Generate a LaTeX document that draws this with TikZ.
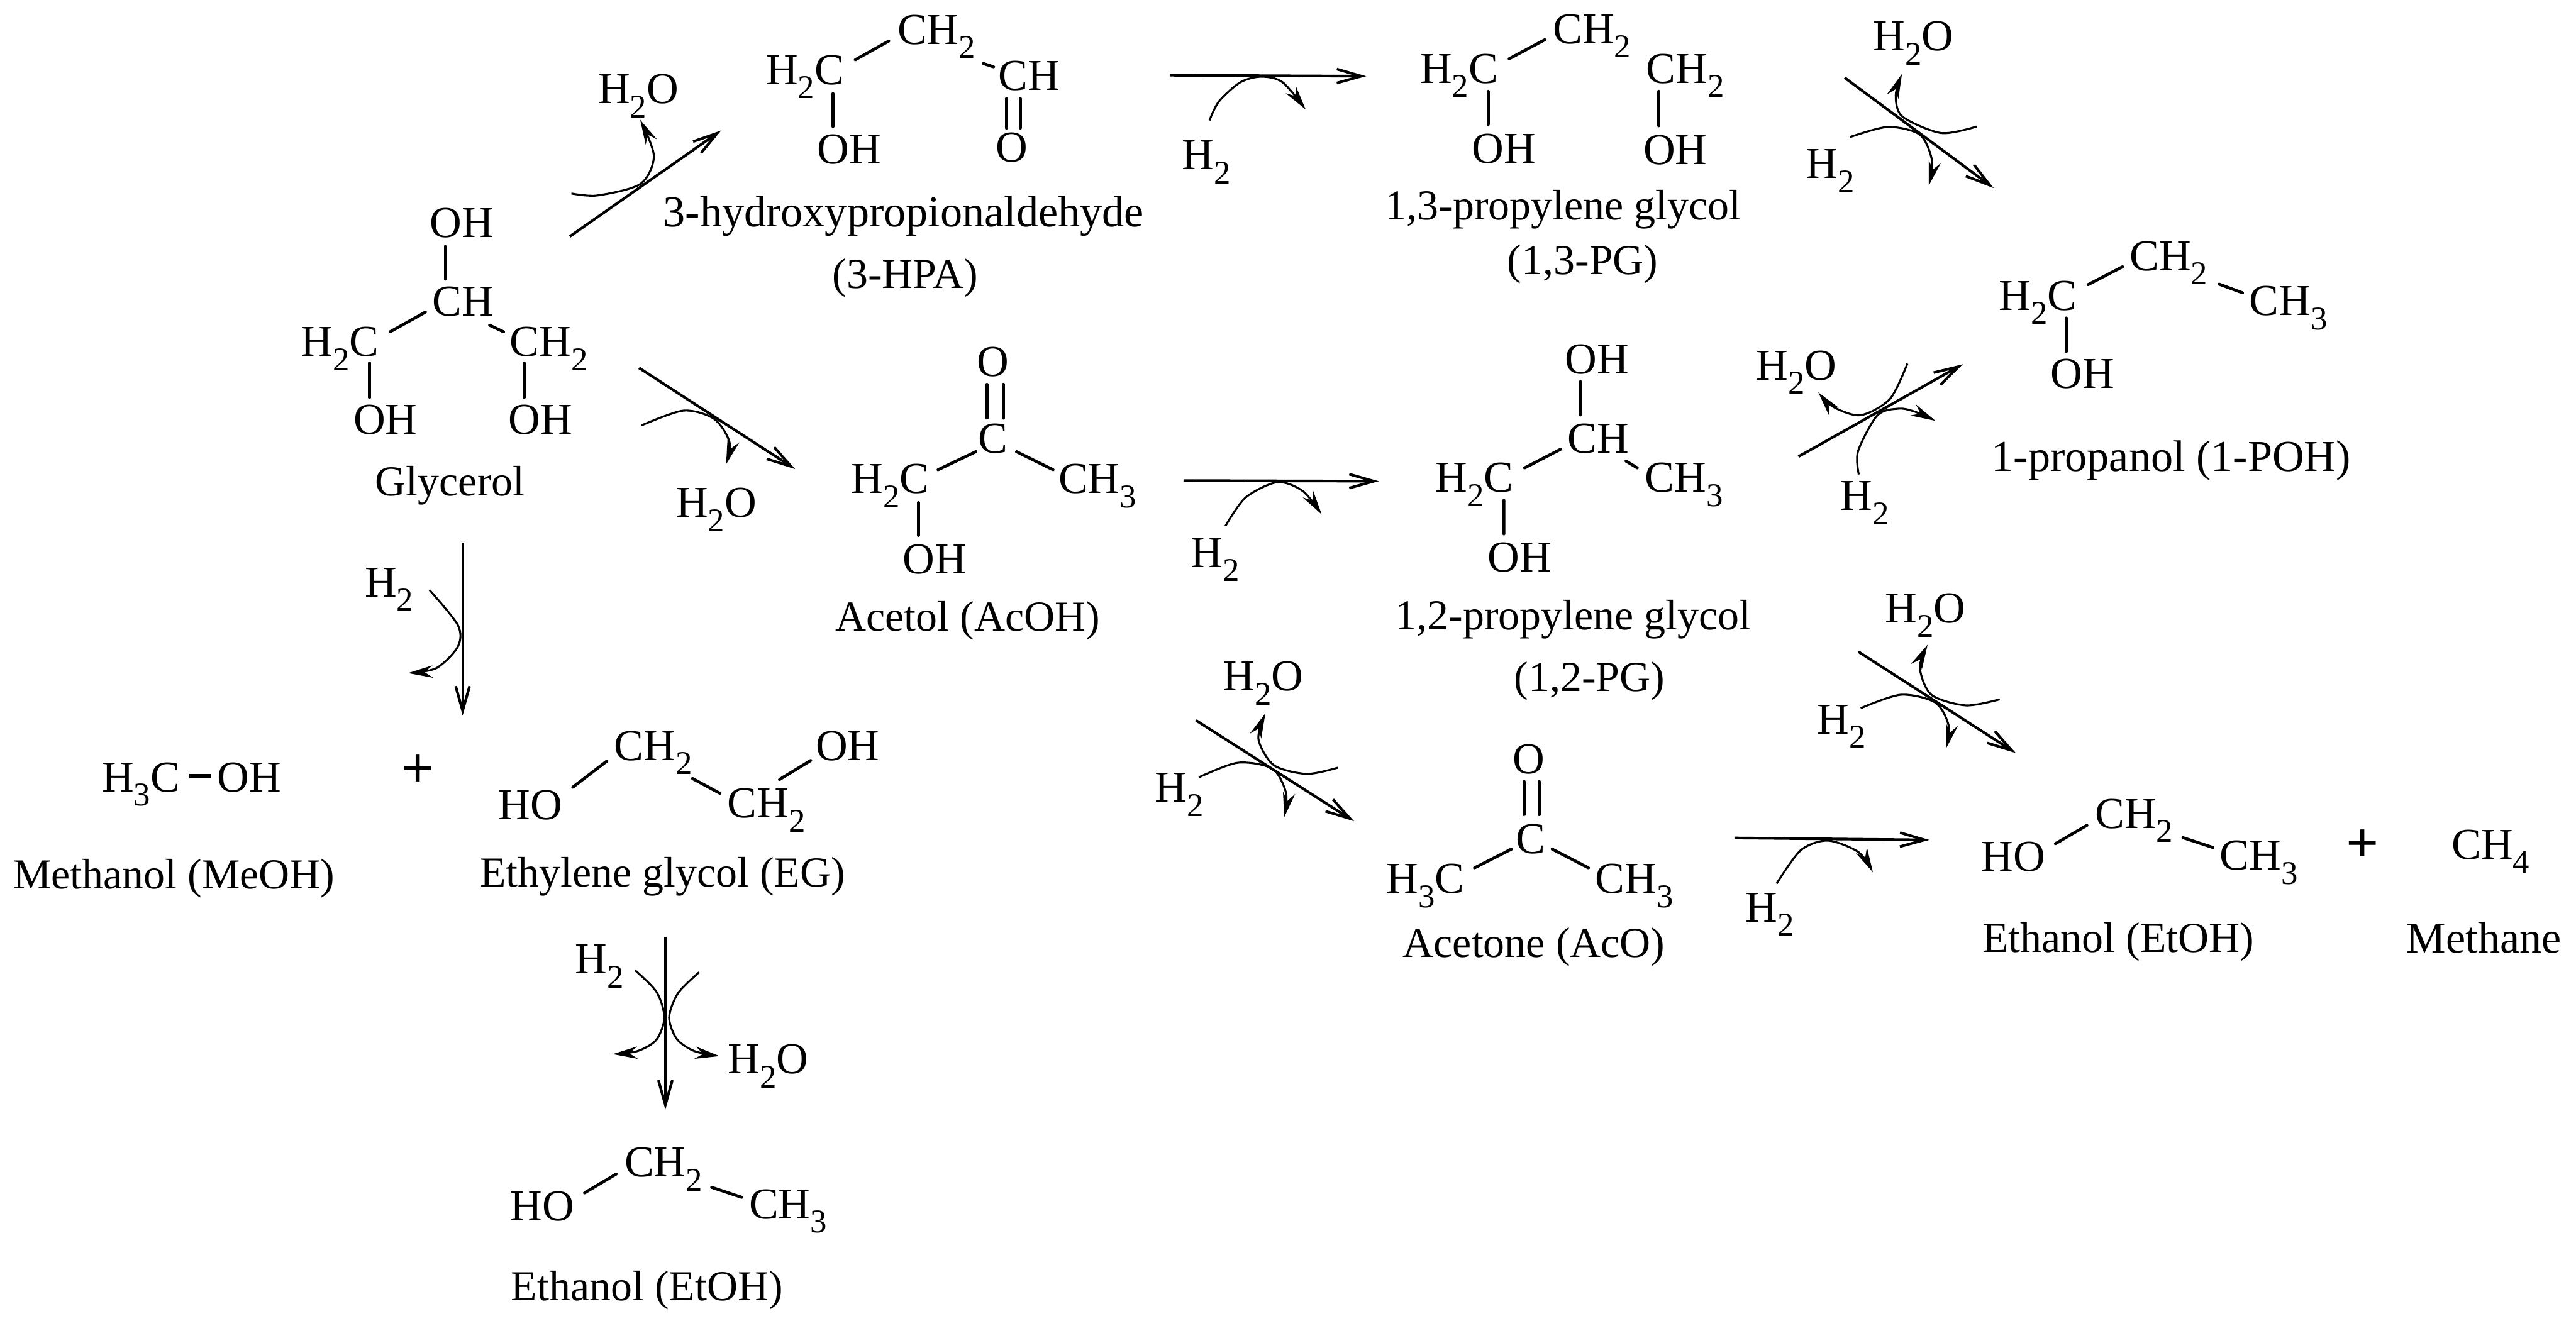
\documentclass[tikz,border=0pt]{standalone}
\usepackage{fontspec}
\setmainfont{Liberation Serif}
\usetikzlibrary{calc,arrows.meta}
\newcommand{\sbs}[1]{\raisebox{-.32em}{\fontsize{11.5}{12}\selectfont #1}}
\tikzset{
  every node/.style={anchor=base,font=\fontsize{15.3}{18}\selectfont},
  lab/.style={font=\fontsize{14.8}{18}\selectfont},
  bond/.style={line width=.036cm,line cap=round},
  rxn/.style={line width=.032cm,-{Straight Barb[length=.3cm,width=.17cm]}},
  curv/.style={line width=.024cm,-{Stealth[length=.3cm,width=.15cm,inset=.1cm]}},
  plusnode/.style={anchor=center,font=\fontsize{20}{20}\selectfont\bfseries}
}
\begin{document}
\begin{tikzpicture}[x=.02cm,y=-.02cm]
    \useasboundingbox (0,0) rectangle (1568,807);

    % glycerol
    \draw node at (281,144.5)[name=glyO]{OH};
    \draw node at (282,192.5)[name=glyCH]{CH};
    \draw node at (207,217)[name=glyL]{H\sbs{2}C};
    \draw node at (334,217)[name=glyR]{CH\sbs{2}};
    \draw node at (234.6,264.5)[name=glyOL]{OH};
    \draw node at (329,264.5)[name=glyOR]{OH};
    \draw node at (274,302)[name=glyName,lab]{Glycerol};
    \draw[bond] ($(glyO.base)+(-10,5.5)$) -- ($(glyCH.base)+(-11,-22.5)$);
    \draw[bond] ($(glyCH.base)+(-23,-2.5)$) -- ($(glyL.base)+(30.5,-15)$);
    \draw[bond] ($(glyCH.base)+(16,5.5)$) -- ($(glyR.base)+(-27.5,-15)$);
    \draw[bond] ($(glyL.base)+(18,4)$) -- ($(glyOL.base)+(-9.6,-22.5)$);
    \draw[bond] ($(glyR.base)+(-15,4)$) -- ($(glyOR.base)+(-10,-22.5)$);

    % 3-HPA
    \draw node at (490,51.4)[name=hpaL]{H\sbs{2}C};
    \draw node at (570,27)[name=hpaM]{CH\sbs{2}};
    \draw node at (626.5,54.8)[name=hpaR]{CH};
    \draw node at (517,99.6)[name=hpaOH]{OH};
    \draw node at (616,98.5)[name=hpaO]{O};
    \draw node at (550,138)[name=hpaName]{3-hydroxypropionaldehyde};
    \draw node at (551,175.7)[name=hpaAbbr,lab]{(3-HPA)};
    \draw[bond] ($(hpaL.base)+(17,5.6)$) -- ($(hpaOH.base)+(-10,-22.6)$);
    \draw[bond] ($(hpaL.base)+(30.6,-15)$) -- ($(hpaM.base)+(-29,-2)$);
    \draw[bond] ($(hpaM.base)+(28.6,11.7)$) -- ($(hpaR.base)+(-21.7,-14.1)$);
    \draw[bond] ($(hpaR.base)+(-13.9,5.2)$) -- ($(hpaO.base)+(-3.4,-20.5)$);
    \draw[bond] ($(hpaR.base)+(-5.5,5.2)$) -- ($(hpaO.base)+(5,-20.5)$);

    % 1,3-PG
    \draw node at (888.2,50.7)[name=pgaL]{H\sbs{2}C};
    \draw node at (969,26.6)[name=pgaM]{CH\sbs{2}};
    \draw node at (1025.9,50.7)[name=pgaR]{CH\sbs{2}};
    \draw node at (915.3,99.2)[name=pgaOL]{OH};
    \draw node at (1019.8,100)[name=pgaOR]{OH};
    \draw node at (951.5,133.8)[name=pgaName,lab]{1,3-propylene glycol};
    \draw node at (963.4,167)[name=pgaAbbr,lab]{(1,3-PG)};
    \draw[bond] ($(pgaL.base)+(30.4,-14.9)$) -- ($(pgaM.base)+(-28.7,-2.4)$);
    \draw[bond] ($(pgaL.base)+(17.7,4.9)$) -- ($(pgaOL.base)+(-9.4,-23.4)$);
    \draw[bond] ($(pgaR.base)+(-16.2,4.9)$) -- ($(pgaOR.base)+(-10.1,-23.4)$);

    % 1-propanol
    \draw node at (1240.6,188.8)[name=proL]{H\sbs{2}C};
    \draw node at (1320,164.8)[name=proM]{CH\sbs{2}};
    \draw node at (1393,192)[name=proR]{CH\sbs{3}};
    \draw node at (1267.6,236.5)[name=proOH]{OH};
    \draw node at (1321.6,287)[name=proName]{1-propanol (1-POH)};
    \draw[bond] ($(proL.base)+(30.4,-15.5)$) -- ($(proM.base)+(-28,-2.4)$);
    \draw[bond] ($(proM.base)+(30.7,8.2)$) -- ($(proR.base)+(-28,-13.7)$);
    \draw[bond] ($(proL.base)+(17.2,4.8)$) -- ($(proOH.base)+(-9.8,-22.5)$);

    % acetol
    \draw node at (604.5,229)[name=aceO]{O};
    \draw node at (604.5,276)[name=aceC]{C};
    \draw node at (542,300.5)[name=aceL]{H\sbs{2}C};
    \draw node at (668,300.5)[name=aceR]{CH\sbs{3}};
    \draw node at (569,349.5)[name=aceOH]{OH};
    \draw node at (589,384)[name=aceName,lab]{Acetol (AcOH)};
    \draw[bond] ($(aceO.base)+(-3.8,5)$) -- ($(aceC.base)+(-3.8,-21.4)$);
    \draw[bond] ($(aceO.base)+(6.3,5)$) -- ($(aceC.base)+(6.3,-21.4)$);
    \draw[bond] ($(aceC.base)+(-10.5,-1)$) -- ($(aceL.base)+(29,-14.5)$);
    \draw[bond] ($(aceC.base)+(14.2,-1)$) -- ($(aceR.base)+(-27,-14.5)$);
    \draw[bond] ($(aceL.base)+(17,5.5)$) -- ($(aceOH.base)+(-10,-23.5)$);

    % 1,2-PG
    \draw node at (972,227.7)[name=pgbO]{OH};
    \draw node at (972.7,275.9)[name=pgbC]{CH};
    \draw node at (897.6,299.7)[name=pgbL]{H\sbs{2}C};
    \draw node at (1025,299.7)[name=pgbR]{CH\sbs{3}};
    \draw node at (924.9,348.2)[name=pgbOH]{OH};
    \draw node at (957.6,383.5)[name=pgbName,lab]{1,2-propylene glycol};
    \draw node at (967.5,421)[name=pgbAbbr,lab]{(1,2-PG)};
    \draw[bond] ($(pgbO.base)+(-10,4.5)$) -- ($(pgbC.base)+(-10.7,-23.2)$);
    \draw[bond] ($(pgbC.base)+(-22.9,-2.3)$) -- ($(pgbL.base)+(30.4,-14.8)$);
    \draw[bond] ($(pgbC.base)+(17,4.8)$) -- ($(pgbR.base)+(-28.4,-14.8)$);
    \draw[bond] ($(pgbL.base)+(17.8,4.9)$) -- ($(pgbOH.base)+(-9.5,-23.1)$);

    % methanol + ethylene glycol
    \draw node at (85.8,482)[name=metL]{H\sbs{3}C};
    \draw node at (151.7,482)[name=metO]{OH};
    \draw node at (106,541)[name=metName,lab]{Methanol (MeOH)};
    \draw[bond,line width=.05cm,line cap=butt] ($(metL.base)+(29.4,-9.4)$) -- ($(metO.base)+(-23,-9.4)$);
    \draw node at (254.3,469.4)[name=plusA,plusnode]{+};
    \draw node at (322.8,499)[name=egH]{HO};
    \draw node at (397.6,463)[name=egA]{CH\sbs{2}};
    \draw node at (466.5,498)[name=egB]{CH\sbs{2}};
    \draw node at (516,463)[name=egO]{OH};
    \draw node at (403.3,540)[name=egName,lab]{Ethylene glycol (EG)};
    \draw[bond] ($(egH.base)+(25.8,-19.7)$) -- ($(egA.base)+(-28.2,.4)$);
    \draw[bond] ($(egA.base)+(23.9,11)$) -- ($(egB.base)+(-28.3,-15)$);
    \draw[bond] ($(egB.base)+(8,-23.4)$) -- ($(egO.base)+(-22.5,0)$);

    % ethanol from EG
    \draw node at (330,743.3)[name=etaH]{HO};
    \draw node at (403.9,716.5)[name=etaM]{CH\sbs{2}};
    \draw node at (479.7,742)[name=etaR]{CH\sbs{3}};
    \draw node at (393.9,791.7)[name=etaName,lab]{Ethanol (EtOH)};
    \draw[bond] ($(etaH.base)+(25.8,-17)$) -- ($(etaM.base)+(-28.8,-1.7)$);
    \draw[bond] ($(etaM.base)+(29.3,6.4)$) -- ($(etaR.base)+(-28.2,-13)$);

    % acetone
    \draw node at (930.7,471.2)[name=ketO]{O};
    \draw node at (931.6,519.6)[name=ketC]{C};
    \draw node at (867.6,543.8)[name=ketL]{H\sbs{3}C};
    \draw node at (994.9,543.8)[name=ketR]{CH\sbs{3}};
    \draw node at (933.7,582.7)[name=ketName,lab]{Acetone (AcO)};
    \draw[bond] ($(ketO.base)+(-3.1,4.6)$) -- ($(ketC.base)+(-4,-23.6)$);
    \draw[bond] ($(ketO.base)+(6.1,4.6)$) -- ($(ketC.base)+(5.2,-23.6)$);
    \draw[bond] ($(ketC.base)+(-11.6,-2.6)$) -- ($(ketL.base)+(29.9,-15.4)$);
    \draw[bond] ($(ketC.base)+(13.2,-2.6)$) -- ($(ketR.base)+(-28,-15.4)$);

    % ethanol + methane
    \draw node at (1225.6,530.5)[name=etbH]{HO};
    \draw node at (1299,504.3)[name=etbM]{CH\sbs{2}};
    \draw node at (1375,529.8)[name=etbR]{CH\sbs{3}};
    \draw node at (1289.4,579.6)[name=etbName,lab]{Ethanol (EtOH)};
    \draw[bond] ($(etbH.base)+(25.5,-16.8)$) -- ($(etbM.base)+(-28.7,-1.8)$);
    \draw[bond] ($(etbM.base)+(29.7,5.7)$) -- ($(etbR.base)+(-28,-13.8)$);
    \draw node at (1438,515)[name=plusB,plusnode]{+};
    \draw node at (1516,523)[name=mthF]{CH\sbs{4}};
    \draw node at (1512,580)[name=mthName]{Methane};

    % glycerol to 3-HPA
    \draw node at (388.6,63)[name=waterA]{H\sbs{2}O};
    \coordinate (rAa) at (346.8,144); \coordinate (rAb) at (439,79.4);
    \draw[rxn] (rAa) -- (rAb);
    \coordinate (cAa) at (347.8,117.8); \coordinate (cAb) at (389.7,73);
    \draw[curv] plot[smooth] coordinates {(cAa) (363.7,119) (389.8,112) (398,95) (cAb)};

    % 3-HPA to 1,3-PG
    \draw node at (734.4,103.3)[name=hydrB]{H\sbs{2}};
    \coordinate (rBa) at (712.2,45.8); \coordinate (rBb) at (831.6,46.4);
    \draw[rxn] (rBa) -- (rBb);
    \coordinate (cBa) at (736.2,73.3); \coordinate (cBb) at (794.7,66.6);
    \draw[curv] plot[smooth] coordinates {(cBa) (742,61.7) (755,50.1) (767.8,46.7) (780.7,50.1) (cBb)};

    % 1,3-PG to 1-propanol
    \draw node at (1164.6,31)[name=waterC]{H\sbs{2}O};
    \draw node at (1114,108.7)[name=hydrC]{H\sbs{2}};
    \coordinate (rCa) at (1122.8,47.3); \coordinate (rCb) at (1213.5,114.5);
    \draw[rxn] (rCa) -- (rCb);
    \coordinate (cCa) at (1203.3,77); \coordinate (cCb) at (1157.7,45);
    \draw[curv] plot[smooth] coordinates {(cCa) (1181.6,81) (1158,71) (1153.9,58) (cCb)};
    \coordinate (cCc) at (1126,83.5); \coordinate (cCd) at (1174,113);
    \draw[curv] plot[smooth] coordinates {(cCc) (1149,77.3) (1168.6,82) (1176,97.8) (cCd)};

    % glycerol to acetol
    \draw node at (436,315)[name=waterD]{H\sbs{2}O};
    \coordinate (rDa) at (389,224); \coordinate (rDb) at (484,285.6);
    \draw[rxn] (rDa) -- (rDb);
    \coordinate (cDa) at (390.5,259); \coordinate (cDb) at (442,282.6);
    \draw[curv] plot[smooth] coordinates {(cDa) (416,250) (434.6,255) (444,269) (cDb)};

    % acetol to 1,2-PG
    \draw node at (739.7,345.3)[name=hydrE]{H\sbs{2}};
    \coordinate (rEa) at (720.4,292.6); \coordinate (rEb) at (839.2,293);
    \draw[rxn] (rEa) -- (rEb);
    \coordinate (cEa) at (745.9,320.3); \coordinate (cEb) at (804.5,313.2);
    \draw[curv] plot[smooth] coordinates {(cEa) (758.2,302.9) (777.5,293.6) (793,299) (cEb)};

    % 1,2-PG to 1-propanol
    \draw node at (1093.4,231.3)[name=waterF]{H\sbs{2}O};
    \draw node at (1135,310.8)[name=hydrF]{H\sbs{2}};
    \coordinate (rFa) at (1094.7,278); \coordinate (rFb) at (1194.7,221.8);
    \draw[rxn] (rFa) -- (rFb);
    \coordinate (cFa) at (1161,221.4); \coordinate (cFb) at (1106.8,238.9);
    \draw[curv] plot[smooth] coordinates {(cFa) (1150.4,242.9) (1132.5,252.8) (1116,247.8) (cFb)};
    \coordinate (cFc) at (1131.4,288.9); \coordinate (cFd) at (1178,256.2);
    \draw[curv] plot[smooth] coordinates {(cFc) (1131,274.6) (1142.8,252.8) (1155.9,248.8) (1166,250.8) (cFd)};

    % glycerol to methanol + EG
    \draw node at (236.8,363.4)[name=hydrG]{H\sbs{2}};
    \coordinate (rGa) at (281.6,330.5); \coordinate (rGb) at (281.6,435.7);
    \draw[rxn] (rGa) -- (rGb);
    \coordinate (cGa) at (261.5,359.3); \coordinate (cGb) at (248.4,409.8);
    \draw[curv] plot[smooth] coordinates {(cGa) (278.7,380.6) (278.7,393.7) (265.6,406.8) (cGb)};

    % EG to ethanol
    \draw node at (365,592.8)[name=hydrH]{H\sbs{2}};
    \draw node at (467.7,653.8)[name=waterH]{H\sbs{2}O};
    \coordinate (rHa) at (405,570.3); \coordinate (rHb) at (405,675.6);
    \draw[rxn] (rHa) -- (rHb);
    \coordinate (cHa) at (386.6,590.8); \coordinate (cHb) at (373,641.8);
    \draw[curv] plot[smooth] coordinates {(cHa) (399.6,603.9) (404.4,619.4) (399.6,633) (388.2,639.9) (cHb)};
    \coordinate (cHc) at (425.5,592); \coordinate (cHd) at (438,643);
    \draw[curv] plot[smooth] coordinates {(cHc) (412.7,604.7) (407.3,619.4) (411.9,632.5) (422.5,639.9) (cHd)};

    % acetol to acetone
    \draw node at (768.9,420.7)[name=waterJ]{H\sbs{2}O};
    \draw node at (717.8,488.4)[name=hydrJ]{H\sbs{2}};
    \coordinate (rJa) at (728,438.6); \coordinate (rJb) at (824.2,500);
    \draw[rxn] (rJa) -- (rJb);
    \coordinate (cJa) at (814.3,467.4); \coordinate (cJb) at (770.2,434.4);
    \draw[curv] plot[smooth] coordinates {(cJa) (795.4,471.2) (775.4,465.9) (766,450.1) (cJb)};
    \coordinate (cJc) at (729.7,473.3); \coordinate (cJd) at (781.7,497.5);
    \draw[curv] plot[smooth] coordinates {(cJc) (753.3,464.4) (774.4,468) (782.8,482.8) (cJd)};

    % 1,2-PG to ethanol + methane
    \draw node at (1172,379.3)[name=waterK]{H\sbs{2}O};
    \draw node at (1120.9,446.8)[name=hydrK]{H\sbs{2}};
    \coordinate (rKa) at (1131.2,396.8); \coordinate (rKb) at (1227,458.5);
    \draw[rxn] (rKa) -- (rKb);
    \coordinate (cKa) at (1217.2,425.8); \coordinate (cKb) at (1173.3,392.6);
    \draw[curv] plot[smooth] coordinates {(cKa) (1196.6,429.5) (1175.6,423) (1168.6,406.6) (cKb)};
    \coordinate (cKc) at (1132.6,431.2); \coordinate (cKd) at (1184.5,455.7);
    \draw[curv] plot[smooth] coordinates {(cKc) (1156.9,423) (1177.9,427.7) (1186.1,441.7) (cKd)};

    % acetone to ethanol
    \draw node at (1077.4,561.4)[name=hydrL]{H\sbs{2}};
    \coordinate (rLa) at (1055.7,510.2); \coordinate (rLb) at (1174.4,511.4);
    \draw[rxn] (rLa) -- (rLb);
    \coordinate (cLa) at (1081.4,538); \coordinate (cLb) at (1140,531);
    \draw[curv] plot[smooth] coordinates {(cLa) (1096.1,517.7) (1112.5,511.8) (1131.2,518.8) (cLb)};
\end{tikzpicture}
\end{document}
